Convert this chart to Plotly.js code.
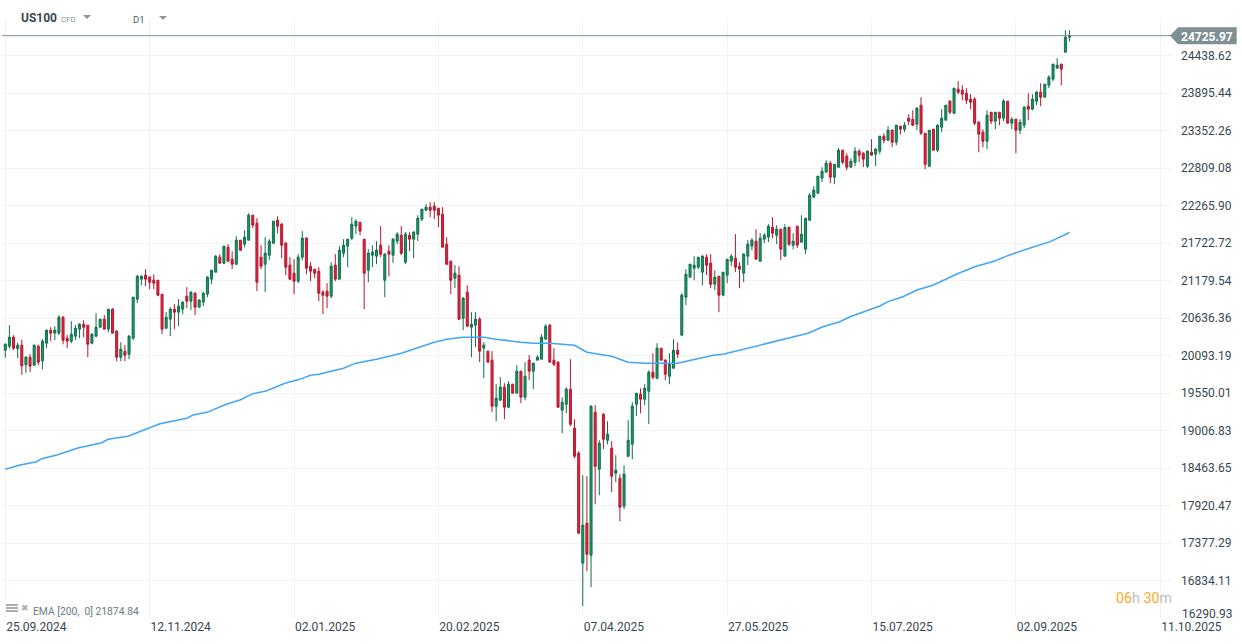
<!DOCTYPE html>
<html>
<head>
<meta charset="utf-8">
<script src="https://cdn.plot.ly/plotly-3.0.1.min.js"></script>
<style>html,body{margin:0;padding:0;background:#fff}#chart{width:1242px;height:644px}</style>
</head>
<body>
<div id="chart"></div>
<script>
const open = [
20170,20228,20359,20190,20243,19958,20069,19953,20228,20016,
20272,20460,20417,20417,20648,20344,20301,20373,20475,20547,
20532,20272,20373,20503,20619,20475,20764,20446,20069,20156,
20112,20344,20909,21199,21257,21228,21184,21184,20981,20489,
20619,20764,20721,20764,20953,20880,20996,20793,20866,20981,
21199,21300,21517,21430,21662,21488,21416,21764,21706,21764,
22126,22010,21517,21416,21546,21720,22053,21996,21720,21402,
21286,21170,21518,21793,21387,21344,21315,21011,21025,20953,
21402,21199,21575,21677,21793,21967,22024,21778,21329,21547,
21532,21691,21184,21604,21547,21749,21836,21445,21836,21778,
21851,22068,22198,22242,22256,22227,22140,21706,21460,21213,
21257,20634,21011,20504,20533,20620,20200,20156,20026,19359,
19446,19635,19345,19678,19548,19866,19490,20026,19866,20026,
20040,20330,20533,20025,19996,19301,19387,19605,19040,18678,
17084,17664,17200,19272,18446,19243,18866,18750,18388,18316,
17910,18634,18808,19387,19532,19460,19576,19851,19764,20199,
20025,19793,19909,20170,20388,20938,21228,21358,21372,21300,
21517,21430,21126,21242,20967,21257,21459,21503,21387,21286,
21532,21677,21749,21459,21778,21807,21952,21836,21923,21532,
21952,21691,21966,21735,21633,22053,22386,22444,22662,22748,
22879,22676,22821,23067,22980,22821,22893,23053,23024,22835,
23038,23009,23053,23270,23212,23357,23183,23415,23371,23531,
23516,23444,23719,23313,22835,23371,23067,23400,23502,23777,
23603,23951,23936,23893,23806,23806,23473,23328,23197,23617,
23487,23617,23531,23777,23458,23516,23357,23429,23704,23661,
23777,23907,23835,24009,24095,24255,24313,24486,24704];
const close = [
20257,20359,20199,20243,19943,20069,19939,20243,19997,20301,
20460,20417,20460,20648,20315,20301,20402,20489,20547,20503,
20257,20402,20503,20619,20475,20764,20417,20069,20185,20098,
20373,20938,21242,21242,21199,21155,21141,20967,20475,20648,
20764,20721,20808,20866,20880,21010,20793,20895,20996,21228,
21329,21532,21430,21677,21459,21416,21764,21619,21807,22126,
21981,21155,21387,21575,21749,22039,21966,21691,21373,21199,
21170,21518,21793,21358,21315,21286,20996,20967,20953,21387,
21199,21619,21691,21778,21996,22039,21894,21286,21575,21590,
21619,21561,21561,21561,21778,21851,21575,21851,21778,21880,
22082,22213,22242,22198,22198,22126,21662,21416,21184,21286,
20620,20924,20518,20547,20620,20156,20243,19997,19359,19475,
19635,19345,19678,19548,19866,19490,19794,19866,19982,20069,
20359,20518,19997,19967,19344,19416,19605,19098,18634,17519,
17635,17215,19359,18489,18823,18881,18953,18345,18432,17896,
18374,18866,19359,19547,19460,19619,19851,19779,20199,20025,
19822,19967,20170,20112,20967,21271,21416,21401,21517,21532,
21401,21126,21228,20967,21300,21488,21532,21372,21344,21561,
21706,21764,21488,21793,21836,21966,21865,21923,21633,21947,
21706,21749,21691,21850,22082,22415,22488,22691,22763,22879,
22676,22864,23067,22893,22821,22908,23053,22995,22937,23053,
22995,23082,23270,23212,23357,23183,23429,23371,23429,23487,
23429,23675,23313,22864,23357,23067,23429,23531,23719,23617,
23965,23907,23878,23791,23762,23458,23299,23197,23574,23487,
23617,23531,23777,23458,23516,23357,23473,23690,23661,23806,
23907,23835,24023,24124,24313,24298,24240,24704,24726];
const high = [
20267,20532,20388,20281,20325,20083,20112,20252,20252,20330,
20470,20503,20518,20677,20663,20392,20590,20532,20561,20605,
20532,20417,20706,20619,20677,20764,20779,20460,20286,20243,
20388,20938,21257,21257,21344,21242,21271,21184,20981,20721,
20793,20837,20909,20880,21083,21025,21010,20909,21010,21242,
21329,21546,21561,21677,21706,21604,21822,21764,21908,22155,
22126,22082,21691,21807,21778,22039,22111,22010,21735,21518,
21489,21561,21894,21807,21445,21344,21373,21040,21141,21445,
21561,21677,21778,21778,22097,22068,22024,21778,21633,21691,
21749,21967,21575,21691,21793,21880,21967,21880,21880,21894,
22126,22213,22285,22314,22314,22227,22242,21807,21460,21402,
21387,20938,21112,20721,20721,20649,20286,20156,20156,19678,
19780,19693,19722,19678,19953,19866,19997,20098,19982,20098,
20402,20547,20547,20199,20010,19489,19634,20039,19170,18707,
18359,18345,19373,19373,18866,19257,19141,18852,18649,18374,
18504,19156,19416,19547,19619,19677,19880,20126,20271,20199,
20039,20126,20329,20285,20996,21344,21416,21532,21517,21546,
21561,21561,21329,21242,21300,21488,21561,21850,21445,21575,
21764,21793,21923,21865,21865,21995,22097,21981,21923,21995,
21952,21865,21966,22126,22082,22444,22546,22691,22821,22922,
22908,22864,23096,23067,23024,22951,23111,23082,23038,23067,
23226,23096,23270,23313,23415,23371,23429,23415,23473,23588,
23646,23690,23835,23313,23357,23371,23444,23661,23719,23791,
23965,24066,24009,23965,23878,23835,23487,23371,23646,23617,
23617,23617,23806,23777,23545,23516,23516,23704,23893,23878,
23922,24037,24023,24153,24313,24400,24313,24805,24805];
const low = [
20059,20195,20170,20055,19813,19837,19852,19939,19953,19895,
20199,20301,20315,20388,20257,20199,20272,20315,20344,20359,
20069,20257,20359,20503,20475,20431,20417,20011,20011,20011,
20040,20315,20851,21112,21097,21054,21054,20953,20402,20475,
20373,20475,20518,20692,20779,20750,20677,20793,20808,20938,
21126,21300,21430,21416,21445,21344,21402,21604,21662,21764,
21937,21025,21344,21010,21474,21706,21865,21503,21257,21184,
20982,21141,21474,21271,21170,21213,20880,20692,20779,20924,
21170,21199,21518,21373,21764,21851,21836,20764,21155,21373,
21416,21518,20938,21238,21431,21706,21547,21416,21604,21503,
21749,22039,22184,22097,22068,21952,21662,21402,20982,21069,
20605,20460,20504,20069,20214,19997,19765,19997,19272,19142,
19446,19171,19330,19548,19548,19403,19446,19736,19606,20026,
20040,20330,19997,19938,19344,18967,19257,19069,18605,17519,
16462,16969,16737,17939,18069,18736,18808,18113,18258,17693,
17867,18620,18591,19214,19257,19373,19098,19750,19750,20025,
19735,19677,19909,20054,20373,20822,21228,21184,21344,21112,
21257,21068,21039,20721,20952,21141,21387,21300,21068,21155,
21401,21619,21488,21459,21720,21735,21793,21706,21474,21532,
21677,21633,21648,21735,21561,22053,22386,22430,22604,22748,
22589,22575,22821,22864,22777,22806,22835,22893,22821,22806,
22995,22835,23009,23168,23197,23110,23139,23299,23328,23429,
23415,23357,23284,22792,22821,23067,23038,23328,23502,23588,
23588,23878,23791,23733,23661,23429,23038,23110,23082,23444,
23371,23429,23487,23458,23371,23024,23299,23386,23502,23646,
23719,23704,23835,23965,24066,24255,24009,24486,24646];

const emaBar = [0,3.6,7.6,8.8,12.5,17.6,23.4,24.9,29.7,35.1,37.5,44,45.5,48.9,53.7,56.9,60,63.4,67.8,71.4,74,76,82,85,90,96,101,104,107,111,116,119,125,128,132,138,141,147,151,155,163,168,171.6,174,194.6,198.2,202.3,204.8,212,214,217.6,221,224.9,230.7,235,239.9,243,247.7,253.3,258];
const emaValue = [18445,18507,18555,18598,18652,18753,18830,18879,18923,19053,19105,19184,19231,19270,19391,19449,19540,19583,19691,19748,19808,19822,19909,19982,20039,20126,20228,20286,20329,20358,20358,20329,20286,20271,20271,20242,20141,20083,19996,19982,19982,20054,20096,20111,20415,20510,20583,20655,20810,20873,20945,21042,21110,21274,21379,21462,21539,21636,21742,21875];

const dateBars = [0,35,70,105,140,175,210,245,280];
const dateLabels = ["25.09.2024","12.11.2024","02.01.2025","20.02.2025","07.04.2025","27.05.2025","15.07.2025","02.09.2025","11.10.2025"];
const priceTicks = [24438.62,23895.44,23352.26,22809.08,22265.90,21722.72,21179.54,20636.36,20093.19,19550.01,19006.83,18463.65,17920.47,17377.29,16834.11,16290.93];
const priceLabels = ["24438.62","23895.44","23352.26","22809.08","22265.90","21722.72","21179.54","20636.36","20093.19","19550.01","19006.83","18463.65","17920.47","17377.29","16834.11",""];
const lastPrice = 24725.97;
const lastPriceLabel = "24725.97";
const lowestLabel = "16290.93";

const W = 1242, H = 644, mL = 2, mR = 70, mT = 18, mB = 26;
const px = x => (x - mL) / (W - mL - mR);
const py = y => 1 - (y - mT) / (H - mT - mB);
const textFont = "Roboto, sans-serif";

function note(x, y, text, size, color, anchor, extra) {
  return Object.assign({xref:"paper", yref:"paper", x:px(x), y:py(y), text:text, showarrow:false,
    xanchor:anchor||"left", yanchor:"middle", align:"left", borderpad:0,
    font:{family:textFont, size:size, color:color}}, extra||{});
}
function tri(x0, x1, y0, y1, color) {
  const mid = (x0 + x1) / 2;
  return {type:"path", xref:"paper", yref:"paper", layer:"above", line:{width:0}, fillcolor:color,
    path:`M ${px(x0)} ${py(y0)} L ${px(x1)} ${py(y0)} L ${px(mid)} ${py(y1)} Z`};
}
function box(x0, x1, y0, y1, color) {
  return {type:"rect", xref:"paper", yref:"paper", layer:"above", line:{width:0}, fillcolor:color,
    x0:px(x0), x1:px(x1), y0:py(y0), y1:py(y1)};
}

const traces = [
  {type:"scatter", mode:"lines", x:emaBar, y:emaValue, hoverinfo:"skip",
   line:{color:"#42a5f5", width:1.5}},
  {type:"candlestick", x:open.map((_, i) => i), open:open, high:high, low:low, close:close,
   whiskerwidth:0,
   increasing:{line:{color:"#0f6e4c", width:1}, fillcolor:"#189c63"},
   decreasing:{line:{color:"#b3172d", width:1}, fillcolor:"#e3233d"}}
];

const layout = {
  width:W, height:H, paper_bgcolor:"#fff", plot_bgcolor:"#fff", showlegend:false, dragmode:false,
  margin:{l:mL, r:mR, t:mT, b:mB, pad:0},
  font:{family:textFont, size:12, color:"#37474f"},
  xaxis:{type:"linear", range:[-0.8, 282.84], rangeslider:{visible:false}, tickmode:"array",
    tickvals:dateBars, ticktext:dateLabels, showgrid:true, gridcolor:"#f2f2f2", gridwidth:1,
    zeroline:false, showline:false, ticks:"", ticklabelshift:31, ticklabelstandoff:0,
    tickfont:{family:textFont, size:12, color:"#37474f"}},
  yaxis:{side:"right", range:[16290.93, 24981.8], tickmode:"array", tickvals:priceTicks, ticktext:priceLabels,
    showgrid:true, gridcolor:"#f2f2f2", gridwidth:1, zeroline:false, showline:false, ticks:"",
    ticklabelstandoff:8, tickfont:{family:textFont, size:12, color:"#37474f"}},
  shapes:[
    {type:"line", xref:"paper", yref:"y", x0:0, x1:1, y0:lastPrice, y1:lastPrice,
     line:{color:"#7f9094", width:1}, layer:"above"},
    {type:"path", xref:"paper", yref:"y", xsizemode:"pixel", ysizemode:"pixel", xanchor:1, yanchor:lastPrice,
     path:"M -2 0 L 6 -8.5 L 64.7 -8.5 L 64.7 8.5 L 6 8.5 Z", fillcolor:"#7f9094", line:{width:0}, layer:"above"},
    tri(83, 91, 15, 19, "#8a9599"),
    tri(159, 167, 16, 20, "#8a9599"),
    box(6, 18, 604, 606, "#a8b0b3"),
    box(6, 18, 607, 609, "#a8b0b3"),
    box(6, 18, 610, 612, "#a8b0b3")
  ],
  annotations:[
    note(19.5, 18, "<b>US100</b>", 12, "#37474f"),
    note(60, 19, "CFD", 7.8, "#8a9599"),
    note(132, 20, "D1", 9.5, "#4b5a60"),
    note(1179.5, 37, "<b>" + lastPriceLabel + "</b>", 12, "#ffffff"),
    note(1180.5, 613.5, lowestLabel, 12, "#37474f"),
    note(20, 608, "✖", 9, "#a8b0b3"),
    note(31.5, 611.5, "EMA [200,  0] 21874.84", 10.3, "#6b7a80"),
    note(1114.5, 598, '<span style="color:#ffa726">06</span><span style="color:#bdbdbd">h </span><span style="color:#ffa726">30</span><span style="color:#bdbdbd">m</span>', 14.3, "#bdbdbd")
  ]
};
Plotly.newPlot("chart", traces, layout, {displayModeBar:false, staticPlot:true});
</script>
</body>
</html>
